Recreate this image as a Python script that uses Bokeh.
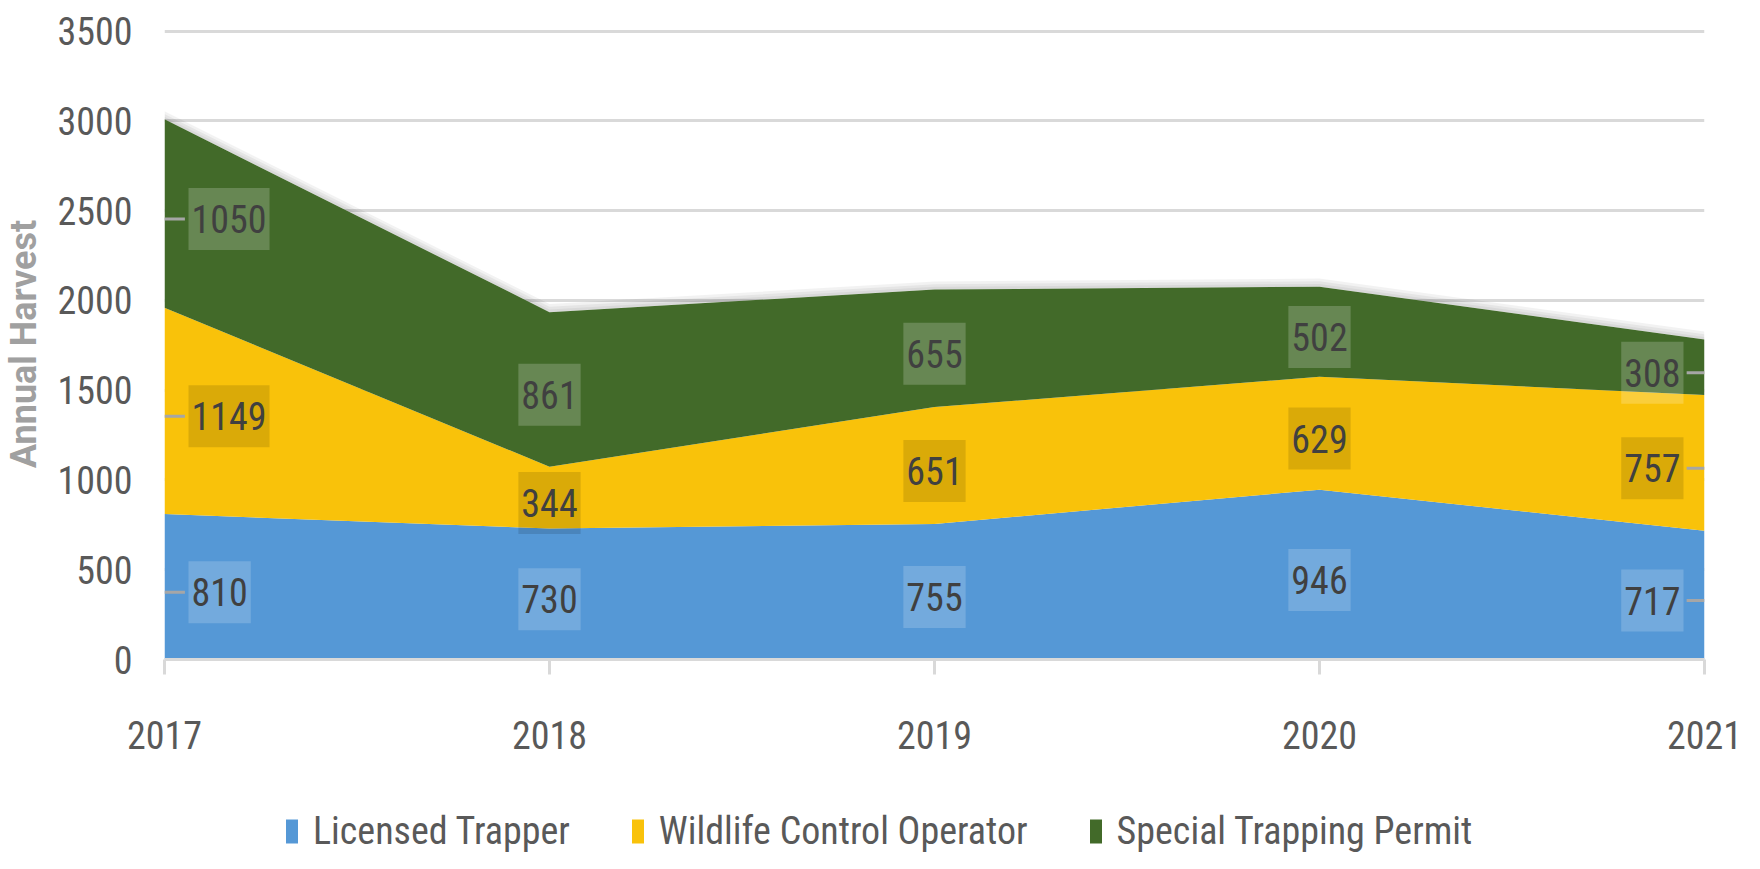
from bokeh.plotting import figure
from bokeh.layouts import column
from bokeh.models import ColumnDataSource, Legend, LegendItem, Range1d, FixedTicker
from bokeh.embed import file_html
from bokeh.resources import INLINE
from bokeh.core.properties import value

# ---- data ----
years = [2017, 2018, 2019, 2020, 2021]
licensed_trapper = [810, 730, 755, 946, 717]
wildlife_control_operator = [1149, 344, 651, 629, 757]
special_trapping_permit = [1050, 861, 655, 502, 308]
series_names = ["Licensed Trapper", "Wildlife Control Operator", "Special Trapping Permit"]
y_ticks = [0, 500, 1000, 1500, 2000, 2500, 3000, 3500]
y_title = "Annual Harvest"

# ---- style ----
FONT = "Roboto Condensed"
colors = ["#5598d6", "#f9c20a", "#426a29"]
box_colors = ["#ffffff", "#000000", "#ffffff"]
box_alphas = [0.18, 0.12, 0.2]
FW, FH = 1540, 631
MT, MB = 28, 120
TOTAL_W, TOTAL_H = 1744, 853
px_per_year = FW / (years[-1] - years[0])

p = figure(frame_width=FW, frame_height=FH, output_backend="svg", toolbar_location=None,
           x_range=Range1d(years[0], years[-1]), y_range=Range1d(y_ticks[0], y_ticks[-1] + 15),
           min_border_left=160, min_border_right=42, min_border_top=MT, min_border_bottom=MB)
p.outline_line_color = None
p.background_fill_color = "white"
p.border_fill_color = "white"

# grid / axes
p.xgrid.visible = False
p.ygrid.ticker = FixedTicker(ticks=y_ticks)
p.ygrid.grid_line_color = "#d9d9d9"
p.ygrid.grid_line_width = 3

p.xaxis.ticker = FixedTicker(ticks=years)
p.xaxis.axis_line_color = "#d9d9d9"
p.xaxis.axis_line_width = 3
p.xaxis.major_tick_line_color = "#d9d9d9"
p.xaxis.major_tick_line_width = 3
p.xaxis.major_tick_out = 15
p.xaxis.major_tick_in = 0
p.xaxis.minor_tick_line_color = None
p.xaxis.major_label_text_font = FONT
p.xaxis.major_label_text_font_size = "38px"
p.xaxis.major_label_text_color = "#595959"
p.xaxis.major_label_standoff = 46

p.yaxis.ticker = FixedTicker(ticks=y_ticks)
p.yaxis.axis_line_color = None
p.yaxis.major_tick_line_color = None
p.yaxis.minor_tick_line_color = None
p.yaxis.major_label_text_font = FONT
p.yaxis.major_label_text_font_size = "38px"
p.yaxis.major_label_text_color = "#595959"
p.yaxis.major_label_standoff = 26
p.yaxis.axis_label = y_title
p.yaxis.axis_label_text_font = "Roboto"
p.yaxis.axis_label_text_font_style = "bold"
p.yaxis.axis_label_text_font_size = "36px"
p.yaxis.axis_label_text_color = "#a0a0a0"
p.yaxis.axis_label_standoff = 9

series = [licensed_trapper, wildlife_control_operator, special_trapping_permit]
keys = ["s0", "s1", "s2"]
data = {"year": years}
for k, s in zip(keys, series):
    data[k] = s
source = ColumnDataSource(data)

totals = [sum(v) for v in zip(*series)]

# soft shadow above the top edge
for off in [45, 30, 15]:
    p.varea(x=years, y1=totals, y2=[t + off for t in totals], fill_color="#000000", fill_alpha=0.05)

renderers = p.varea_stack(stackers=keys, x="year", color=colors, source=source)

# ---- data labels ----
bottoms = [0] * len(years)
for si, s in enumerate(series):
    mids = [b + v / 2 - 30 for b, v in zip(bottoms, s)]
    groups = [
        ([0], "left", 24),
        (list(range(1, len(years) - 1)), "center", 0),
        ([len(years) - 1], "right", -21),
    ]
    for idx, align, xoff in groups:
        src = ColumnDataSource(dict(
            x=[years[i] for i in idx],
            y=[mids[i] for i in idx],
            t=[str(s[i]) for i in idx],
        ))
        p.text(x="x", y="y", text="t", source=src, x_offset=xoff,
               text_align=align, text_baseline="middle",
               text_font=value(FONT), text_font_size="38px", text_color="#404040",
               background_fill_color=box_colors[si], background_fill_alpha=box_alphas[si],
               padding=(3, 17))
        if xoff != 0:
            x0 = [years[i] for i in idx]
            x1 = [years[i] + (xoff * 0.85) / px_per_year for i in idx]
            yy = [mids[i] for i in idx]
            p.segment(x0=x0, y0=yy, x1=x1, y1=yy, line_color="#a6a6a6", line_width=3)
    bottoms = [b + v for b, v in zip(bottoms, s)]

# ---- legend (separate strip below the chart) ----
H1 = MT + FH + MB
H2 = TOTAL_H - H1
lg = figure(frame_width=TOTAL_W, frame_height=H2, output_backend="svg", toolbar_location=None,
            x_range=(0, 1), y_range=(0, 1),
            min_border_left=0, min_border_right=0, min_border_top=0, min_border_bottom=0)
lg.axis.visible = False
lg.grid.visible = False
lg.outline_line_color = None
# swatch-only renderers placed outside the visible range (used just for legend glyphs)
dummies = [lg.varea(x=[5, 6], y1=[5, 5], y2=[6, 6], fill_color=c) for c in colors]

legend = Legend(items=[LegendItem(label=n, renderers=[r]) for n, r in zip(series_names, dummies)],
                orientation="horizontal", location=(284, 0))
legend.label_text_font = FONT
legend.label_text_font_size = "38px"
legend.label_text_color = "#595959"
legend.glyph_width = 15
legend.glyph_height = 30
legend.label_standoff = 14
legend.spacing = 60
legend.padding = 0
legend.margin = 0
legend.border_line_color = None
legend.background_fill_alpha = 0
lg.add_layout(legend, "center")

layout = column(p, lg, spacing=0)
open("out.html", "w").write(file_html(layout, INLINE))
